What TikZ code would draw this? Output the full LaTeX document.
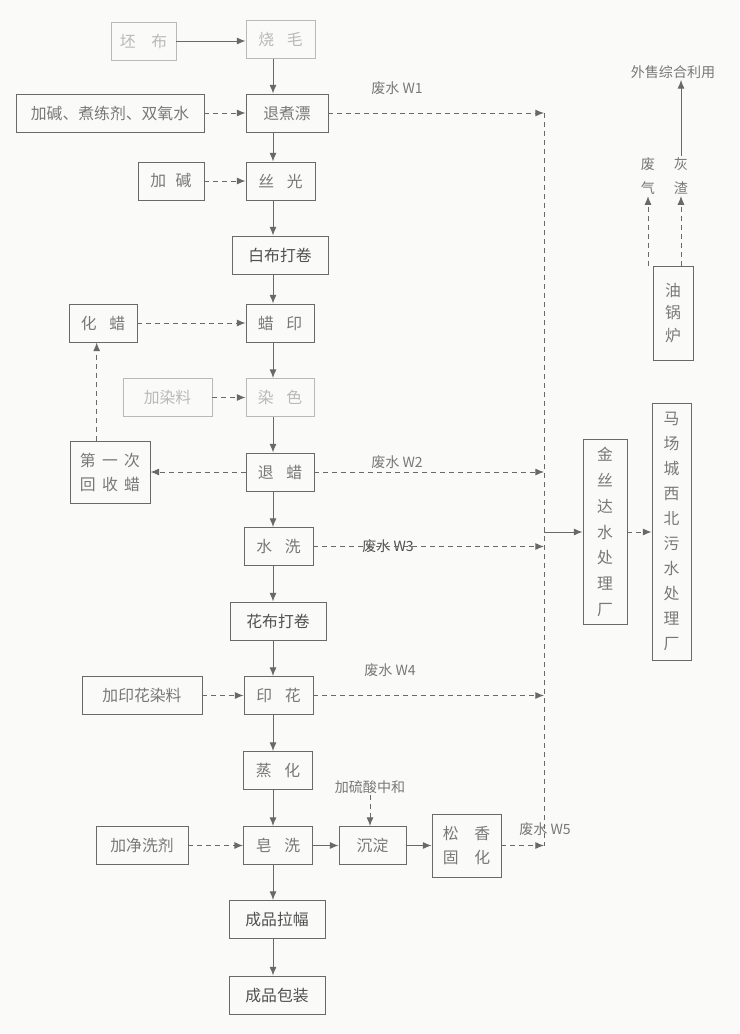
\documentclass[tikz,border=0pt]{standalone}
\usepackage{fontspec}
\newfontfamily\cjk{Noto Sans CJK SC}
\usepackage{xcolor}
\definecolor{paper}{RGB}{250,250,249}
\definecolor{scanline}{RGB}{105,105,105}
\definecolor{scantext}{RGB}{120,120,120}
\definecolor{scandark}{RGB}{80,80,80}
\definecolor{scanfaint}{RGB}{185,185,185}
\usetikzlibrary{arrows.meta}

\tikzset{
  box/.style={draw=scanline, line width=0.8pt, inner sep=0pt, minimum height=11.4mm,
    text=scantext, font=\cjk\fontsize{13.5}{16}\selectfont, align=center},
  faintbox/.style={box, draw=scanfaint, text=scanfaint},
  lbl/.style={text=scantext, font=\cjk\fontsize{12}{14}\selectfont, inner sep=1pt, align=center},
  flow/.style={draw=scanline, line width=0.8pt, -{Latex[length=2.6mm,width=2.1mm]}},
  feed/.style={flow, dash pattern=on 1.5mm off 1.2mm},
}

\begin{document}
\begin{tikzpicture}[x=0.3mm, y=-0.3mm]
      \fill[paper] (0,0) rectangle (739,1034);
      \useasboundingbox (0,0) rectangle (739,1034);
      \coordinate (col) at (273,0);
      \coordinate (trunk) at (544,0);

      % Main process line
      \node[faintbox, minimum width=20.7mm] (shaomao) at (280.5,39.5) {烧\hspace{0.8em}毛};
      \node[box, minimum width=24.6mm] (tuizhupiao) at (287,113) {退煮漂};
      \node[box, minimum width=20.7mm] (siguang) at (280.5,181) {丝\hspace{0.8em}光};
      \node[box, minimum width=28.8mm, text=scandark] (baibu) at (280,255) {白布打卷};
      \node[box, minimum width=20.4mm] (layin) at (280,323) {蜡\hspace{0.8em}印};
      \node[faintbox, minimum width=20.4mm] (ranse) at (280,397.5) {染\hspace{0.8em}色};
      \node[box, minimum width=20.4mm] (tuila) at (280,472) {退\hspace{0.8em}蜡};
      \node[box, minimum width=20.7mm] (shuixi) at (278.5,546.5) {水\hspace{0.8em}洗};
      \node[box, minimum width=28.8mm, text=scandark] (huabu) at (278,621) {花布打卷};
      \node[box, minimum width=20.7mm] (yinhua) at (278.5,695.5) {印\hspace{0.8em}花};
      \node[box, minimum width=20.7mm] (zhenghua) at (278,770.5) {蒸\hspace{0.8em}化};
      \node[box, minimum width=20.7mm] (zaoxi) at (278,845.5) {皂\hspace{0.8em}洗};
      \node[box, minimum width=28.8mm, text=scandark] (lafu) at (277,919.5) {成品拉幅};
      \node[box, minimum width=28.8mm, text=scandark] (baozhuang) at (277,995) {成品包装};

      \draw[flow] (shaomao.south -| col) -- (tuizhupiao.north -| col);
      \draw[flow] (tuizhupiao.south -| col) -- (siguang.north -| col);
      \draw[flow] (siguang.south -| col) -- (baibu.north -| col);
      \draw[flow] (baibu.south -| col) -- (layin.north -| col);
      \draw[flow] (layin.south -| col) -- (ranse.north -| col);
      \draw[flow] (ranse.south -| col) -- (tuila.north -| col);
      \draw[flow] (tuila.south -| col) -- (shuixi.north -| col);
      \draw[flow] (shuixi.south -| col) -- (huabu.north -| col);
      \draw[flow] (huabu.south -| col) -- (yinhua.north -| col);
      \draw[flow] (yinhua.south -| col) -- (zhenghua.north -| col);
      \draw[flow] (zhenghua.south -| col) -- (zaoxi.north -| col);
      \draw[flow] (zaoxi.south -| col) -- (lafu.north -| col);
      \draw[flow] (lafu.south -| col) -- (baozhuang.north -| col);

      % Inputs on the left
      \node[faintbox, minimum width=19.5mm] (pibu) at (143.5,41) {坯\hspace{1em}布};
      \node[box, minimum width=56.4mm] (jiajian) at (110,113) {加碱、煮练剂、双氧水};
      \node[box, minimum width=19.8mm] (jiajianb) at (171,181) {加\hspace{0.6em}碱};
      \node[box, minimum width=20.4mm] (huala) at (103,323) {化\hspace{0.8em}蜡};
      \node[faintbox, minimum width=26.7mm] (jiaranliao) at (167.5,397.5) {加染料};
      \node[box, minimum width=24mm, minimum height=18.6mm, font=\cjk\fontsize{13.5}{20.5}\selectfont]
           (huishou) at (110,472) {第\hspace{0.4em}一\hspace{0.4em}次\\回\hspace{0.4em}收\hspace{0.4em}蜡};
      \node[box, minimum width=36mm] (jiayinhua) at (142,695.5) {加印花染料};
      \node[box, minimum width=27.6mm] (jiajingxi) at (142,845.5) {加净洗剂};

      \draw[flow] (pibu.east) -- (pibu.east -| shaomao.west);
      \draw[feed] (jiajian.east) -- (tuizhupiao.west);
      \draw[feed] (jiajianb.east) -- (siguang.west);
      \draw[feed] (huala.east) -- (layin.west);
      \draw[feed] (jiaranliao.east) -- (ranse.west);
      \draw[feed] (tuila.west) -- (huishou.east);
      \draw[feed] ([xshift=-4mm]huishou.north) -- ([xshift=-4mm]huishou.north |- huala.south);
      \draw[feed] (jiayinhua.east) -- (yinhua.west);
      \draw[feed] (jiajingxi.east) -- (zaoxi.west);

      % Wash water treatment
      \node[box, minimum width=20.1mm] (chendian) at (372.5,845.5) {沉淀};
      \node[box, minimum width=20.7mm, minimum height=18.9mm, font=\cjk\fontsize{13.5}{21}\selectfont]
           (songxiang) at (466.5,845.5) {松\hspace{1em}香\\固\hspace{1em}化};
      \node[lbl] (liusuan) at (370,787) {加硫酸中和};
      \draw[flow] (zaoxi) -- (chendian);
      \draw[flow] (chendian) -- (songxiang);
      \draw[feed] (liusuan.south) -- (liusuan.south |- chendian.north);

      % Waste water
      \node[lbl] (w1) at (397,88) {废水 W1};
      \node[lbl] (w2) at (397,462) {废水 W2};
      \node[lbl, text=scandark] (w3) at (388,546.5) {废水 W3};
      \node[lbl] (w4) at (390,670) {废水 W4};
      \node[lbl] (w5) at (545,829) {废水 W5};
      \draw[scanline, line width=0.8pt, dash pattern=on 1.5mm off 1.2mm]
           (tuizhupiao.east -| trunk) -- (songxiang.east -| trunk);
      \draw[feed] (tuizhupiao.east) -- (tuizhupiao.east -| trunk);
      \draw[feed] (tuila.east) -- (tuila.east -| trunk);
      \draw[feed] (shuixi.east) -- (shuixi.east -| trunk);
      \draw[feed] (yinhua.east) -- (yinhua.east -| trunk);
      \draw[feed] (songxiang.east) -- (songxiang.east -| trunk);

      % Treatment plants
      \node[box, minimum width=13.2mm, minimum height=55.5mm, font=\cjk\fontsize{13.5}{22}\selectfont]
           (jinsida) at (605,532) {金\\丝\\达\\水\\处\\理\\厂};
      \node[box, minimum width=11.7mm, minimum height=77.1mm, font=\cjk\fontsize{13.5}{21.3}\selectfont]
           (wushui) at (671.5,531.5) {马\\场\\城\\西\\北\\污\\水\\处\\理\\厂};
      \coordinate (hub) at (trunk |- jinsida.west);
      \draw[flow] (hub) -- (jinsida.west);
      \draw[feed] (jinsida.east) -- (jinsida.east -| wushui.west);

      % Boiler
      \node[box, minimum width=12mm, minimum height=28.2mm, font=\cjk\fontsize{13.5}{19.6}\selectfont]
           (guolu) at (673,313) {油\\锅\\炉};
      \node[lbl, font=\cjk\fontsize{12}{21}\selectfont] (feiqi) at (648,176) {废\\气};
      \node[lbl, font=\cjk\fontsize{12}{21}\selectfont] (huizha) at (681,176) {灰\\渣};
      \node[lbl] (waishou) at (673,72) {外售综合利用};
      \draw[feed] (guolu.north -| feiqi) -- (feiqi.south);
      \draw[feed] (guolu.north -| huizha) -- (huizha.south);
      \draw[flow] (huizha.north) -- (huizha.north |- waishou.south);
\end{tikzpicture}
\end{document}
